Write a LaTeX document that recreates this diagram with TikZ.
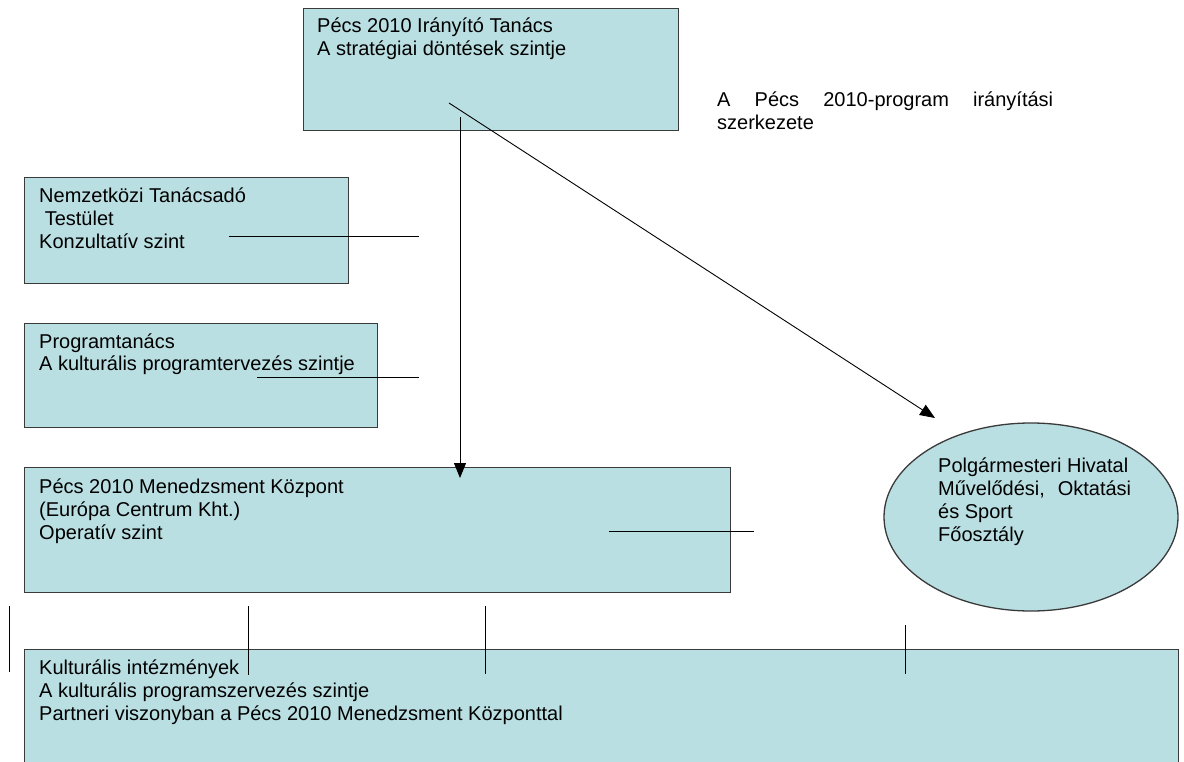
\documentclass[tikz,border=0pt]{standalone}
\usepackage{fontspec}
\setmainfont{Liberation Sans}
\usetikzlibrary{arrows.meta,shapes.geometric}
\definecolor{boxfill}{HTML}{BADFE2}
\definecolor{boxline}{HTML}{3A3A3A}
\newcommand\mylines[1]{\vtop{\baselineskip=23pt\halign{##\hfil\cr#1\crcr}}}
\begin{document}
\begin{tikzpicture}[x=1pt,y=-1pt,
  box/.style={draw=boxline, fill=boxfill, line width=1.3pt, rectangle, inner sep=0pt, anchor=north west},
  oval/.style={draw=boxline, fill=boxfill, line width=1.3pt, ellipse, inner sep=0pt},
  lbl/.style={anchor=base west, inner sep=0pt, font=\fontsize{20pt}{23pt}\selectfont},
  conn/.style={line width=0.9pt, draw=black},
  arr/.style={conn, -{Triangle[length=15pt,width=12pt]}}]
\clip (0,0) rectangle (1184,762);
\fill[white] (0,0) rectangle (1184,762);
\useasboundingbox (0,0) rectangle (1184,762);
% boxes
\node[box, minimum width=375pt, minimum height=122pt] (tb) at (303,8) {};
\node[box, minimum width=324pt, minimum height=106pt] (nb) at (24,177) {};
\node[box, minimum width=353pt, minimum height=104pt] (pb) at (24,323) {};
\node[box, minimum width=706pt, minimum height=125pt] (mb) at (24,467) {};
\node[box, minimum width=1154pt, minimum height=130pt] (kb) at (24,649) {};
\node[oval, minimum width=294pt, minimum height=188pt] (eb) at (1031,517) {};
% texts
\node[lbl] (tbt) at (317,33) {\mylines{Pécs 2010 Irányító Tanács\cr A stratégiai döntések szintje}};
\node[lbl] (title) at (717,107) {\vtop{\baselineskip=23pt\hbox to 336pt{A\hfill Pécs\hfill 2010-program\hfill irányítási}\hbox{szerkezete}}};
\node[lbl] (nbt) at (39,203) {\mylines{Nemzetközi Tanácsadó\cr\ Testület\cr Konzultatív szint}};
\node[lbl] (pbt) at (39,348) {\mylines{Programtanács\cr A kulturális programtervezés szintje}};
\node[lbl] (mbt) at (39,493) {\mylines{Pécs 2010 Menedzsment Központ\cr (Európa Centrum Kht.)\cr Operatív szint}};
\node[lbl] (ebt) at (938,472) {\vtop{\baselineskip=23pt\hbox{Polgármesteri Hivatal}\hbox to 193pt{Művelődési,\hfill Oktatási}\hbox{és Sport}\hbox{Főosztály}}};
\node[lbl] (kbt) at (39,674) {\mylines{Kulturális intézmények\cr A kulturális programszervezés szintje\cr Partneri viszonyban a Pécs 2010 Menedzsment Központtal}};
% connector end points
\coordinate (a1) at (460,117);
\coordinate (a2) at (460,478);
\coordinate (d1) at (449,103);
\coordinate (d2) at (935,418);
\coordinate (n1) at (229,236);
\coordinate (n2) at (419,236);
\coordinate (p1) at (257,377);
\coordinate (p2) at (419,377);
\coordinate (m1) at (609,531);
\coordinate (m2) at (754,531);
\coordinate (v1a) at (9,606);
\coordinate (v1b) at (9,672);
\coordinate (v2a) at (248,606);
\coordinate (v2b) at (248,675);
\coordinate (v3a) at (485,606);
\coordinate (v3b) at (485,674);
\coordinate (v4a) at (905,625);
\coordinate (v4b) at (905,674);
% connectors
\draw[arr] (a1) -- (a2);
\draw[arr] (d1) -- (d2);
\draw[conn] (n1) -- (n2);
\draw[conn] (p1) -- (p2);
\draw[conn] (m1) -- (m2);
\draw[conn] (v1a) -- (v1b);
\draw[conn] (v2a) -- (v2b);
\draw[conn] (v3a) -- (v3b);
\draw[conn] (v4a) -- (v4b);
\end{tikzpicture}
\end{document}
